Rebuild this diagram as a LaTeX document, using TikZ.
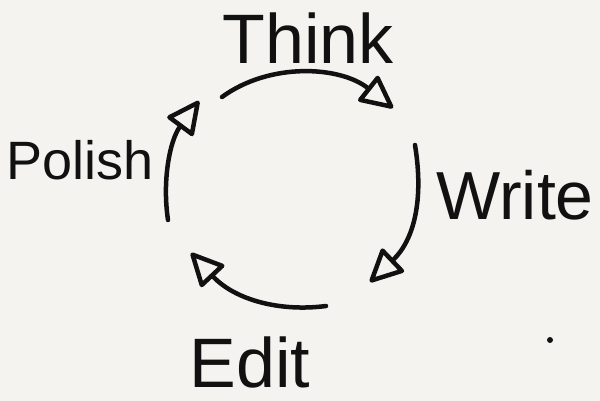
\documentclass[tikz,border=0pt]{standalone}
\usepackage{fontspec}
\setmainfont{Liberation Sans}
\usetikzlibrary{arrows.meta}
\definecolor{paper}{RGB}{244,243,239}
\definecolor{ink}{RGB}{17,17,17}
\tikzset{
  word/.style={text=ink, inner sep=0pt, anchor=center},
  cyclearc/.style={draw=ink, line width=4.5pt, line cap=round,
    -{Triangle[open,length=36pt,width=34pt,round]}},
}
\begin{document}
\begin{tikzpicture}[x=1pt, y=-1pt]
\fill[paper] (0,0) rectangle (600,401);
\useasboundingbox (0,0) rectangle (600,401);

% the four steps
\node[word, font=\fontsize{70}{70}\selectfont] (think) at (308,38) {Think};
\node[word, font=\fontsize{68}{68}\selectfont] (write) at (515,195) {Write};
\node[word, font=\fontsize{54}{54}\selectfont] (polish) at (80,160) {Polish};
\node[word, font=\fontsize{70}{70}\selectfont] (edit) at (250,362) {Edit};

% arc ends
\coordinate (a1) at (222,97);
\coordinate (a2) at (393,108);
\coordinate (b1) at (415,145);
\coordinate (b2) at (370,282);
\coordinate (c1) at (326,306);
\coordinate (c2) at (191,253);
\coordinate (d1) at (168,220);
\coordinate (d2) at (199,101);

% the cycle
\draw[cyclearc] (a1) .. controls (270,62) and (340,66) .. (a2);
\draw[cyclearc] (b1) .. controls (424,200) and (414,240) .. (b2);
\draw[cyclearc] (c1) .. controls (280,312) and (235,300) .. (c2);
\draw[cyclearc] (d1) .. controls (162,180) and (170,140) .. (d2);

% stray dot
\fill[ink] (550,340) circle (3);
\end{tikzpicture}
\end{document}
